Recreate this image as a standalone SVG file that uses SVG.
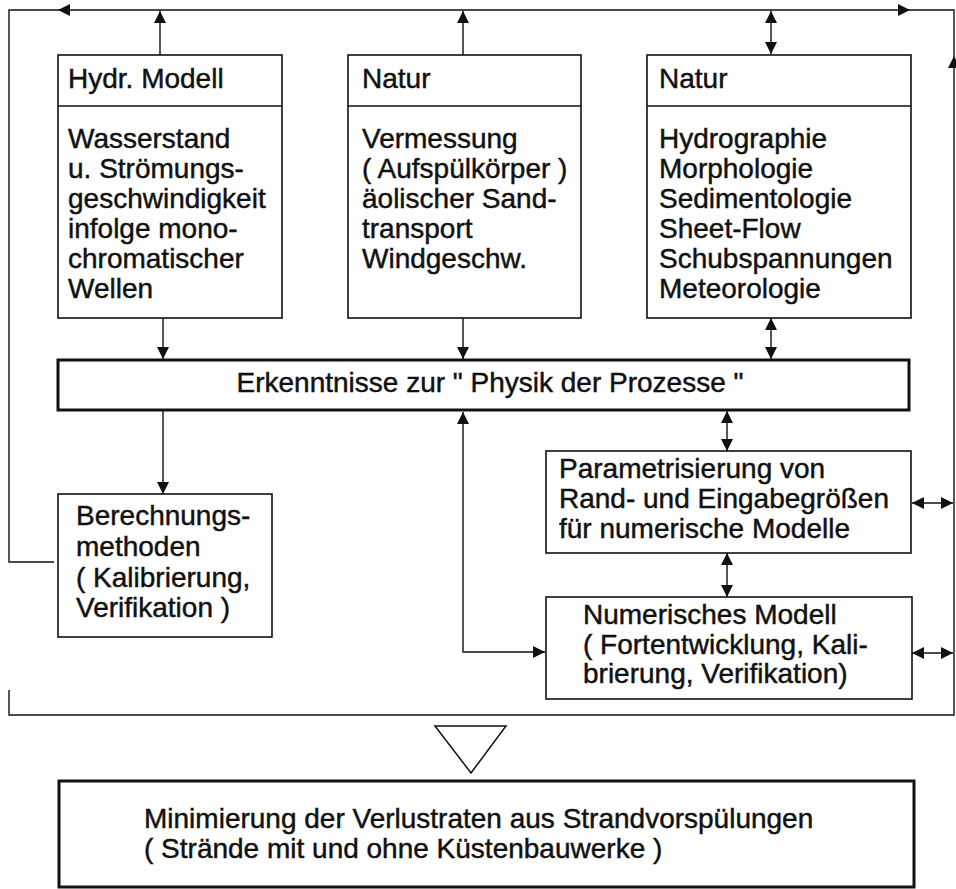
<svg xmlns="http://www.w3.org/2000/svg" width="956" height="889" viewBox="0 0 956 889">
<style>
text{font-family:"Liberation Sans",Arial,sans-serif;font-size:28px;fill:#111;stroke:#111;stroke-width:0.45}
.box{fill:#fff;stroke:#111;stroke-width:1.6}
.thick{fill:#fff;stroke:#111;stroke-width:3}
.ln{fill:none;stroke:#111;stroke-width:1.4}
.ah{fill:#111}
</style>
<defs>
<marker id="a" viewBox="0 0 12 12" refX="12" refY="6" markerWidth="12" markerHeight="12" markerUnits="userSpaceOnUse" orient="auto-start-reverse">
<path d="M0,0 L12,6 L0,12 z" fill="#111"/>
</marker>
</defs>
<rect width="956" height="889" fill="#fff"/>
<g id="connectors">
<polyline class="ln" points="54,562 9,562 9,10 954,10 954,715 9,715 9,690"/>
<polygon class="ah" points="58,10 70,4 70,16"/>
<polygon class="ah" points="910,10 898,4 898,16"/>
<polygon class="ah" points="954,56 948,68 960,68"/>
<line class="ln" x1="160" y1="55" x2="160" y2="11" marker-end="url(#a)"/>
<line class="ln" x1="463" y1="55" x2="463" y2="11" marker-end="url(#a)"/>
<line class="ln" x1="771" y1="11" x2="771" y2="54" marker-start="url(#a)" marker-end="url(#a)"/>
<line class="ln" x1="163" y1="318" x2="163" y2="359" marker-end="url(#a)"/>
<line class="ln" x1="463" y1="318" x2="463" y2="359" marker-end="url(#a)"/>
<line class="ln" x1="771" y1="318" x2="771" y2="359" marker-start="url(#a)" marker-end="url(#a)"/>
<line class="ln" x1="163" y1="411" x2="163" y2="494" marker-end="url(#a)"/>
<polyline class="ln" points="463,412 463,652 545,652" marker-start="url(#a)" marker-end="url(#a)"/>
<line class="ln" x1="727" y1="411" x2="727" y2="451" marker-start="url(#a)" marker-end="url(#a)"/>
<line class="ln" x1="727" y1="553" x2="727" y2="597" marker-start="url(#a)" marker-end="url(#a)"/>
<line class="ln" x1="912" y1="503" x2="953" y2="503" marker-start="url(#a)" marker-end="url(#a)"/>
<line class="ln" x1="912" y1="653" x2="953" y2="653" marker-start="url(#a)" marker-end="url(#a)"/>
<polygon points="435,726 506,726 471,773" fill="#fff" stroke="#111" stroke-width="1.5"/>
</g>
<g id="hydr">
<rect class="box" x="58" y="55" width="224" height="263"/>
<line class="ln" x1="58" y1="106" x2="282" y2="106"/>
<text x="68" y="88">Hydr. Modell</text>
<text x="68" y="148">Wasserstand</text>
<text x="68" y="178">u. Strömungs-</text>
<text x="68" y="208">geschwindigkeit</text>
<text x="68" y="238">infolge mono-</text>
<text x="68" y="268">chromatischer</text>
<text x="68" y="298">Wellen</text>
</g>
<g id="natur1">
<rect class="box" x="348" y="55" width="233" height="263"/>
<line class="ln" x1="348" y1="106" x2="581" y2="106"/>
<text x="362" y="88">Natur</text>
<text x="362" y="148">Vermessung</text>
<text x="362" y="178">( Aufspülkörper )</text>
<text x="362" y="208">äolischer Sand-</text>
<text x="362" y="238">transport</text>
<text x="362" y="268">Windgeschw.</text>
</g>
<g id="natur2">
<rect class="box" x="647" y="55" width="264" height="263"/>
<line class="ln" x1="647" y1="106" x2="911" y2="106"/>
<text x="659" y="88">Natur</text>
<text x="659" y="148">Hydrographie</text>
<text x="659" y="178">Morphologie</text>
<text x="659" y="208">Sedimentologie</text>
<text x="659" y="238">Sheet-Flow</text>
<text x="659" y="268">Schubspannungen</text>
<text x="659" y="298">Meteorologie</text>
</g>
<g id="erkenntnisse">
<rect class="thick" x="58" y="360" width="851" height="50"/>
<text x="490" y="392" text-anchor="middle">Erkenntnisse zur " Physik der Prozesse "</text>
</g>
<g id="berechnung">
<rect class="box" x="58" y="494" width="214" height="143"/>
<text x="76" y="525">Berechnungs-</text>
<text x="76" y="556">methoden</text>
<text x="76" y="587">( Kalibrierung,</text>
<text x="76" y="617">Verifikation )</text>
</g>
<g id="param">
<rect class="box" x="546" y="451" width="365" height="102"/>
<text x="559" y="478">Parametrisierung von</text>
<text x="559" y="508">Rand- und Eingabegrößen</text>
<text x="559" y="538">für numerische Modelle</text>
</g>
<g id="numerisch">
<rect class="box" x="546" y="597" width="366" height="102"/>
<text x="583" y="624">Numerisches Modell</text>
<text x="583" y="654">( Fortentwicklung, Kali-</text>
<text x="583" y="683">brierung, Verifikation)</text>
</g>
<g id="minimierung">
<rect class="thick" x="59" y="781" width="855" height="106"/>
<text x="144" y="828">Minimierung der Verlustraten aus Strandvorspülungen</text>
<text x="144" y="858">( Strände mit und ohne Küstenbauwerke )</text>
</g>
</svg>
